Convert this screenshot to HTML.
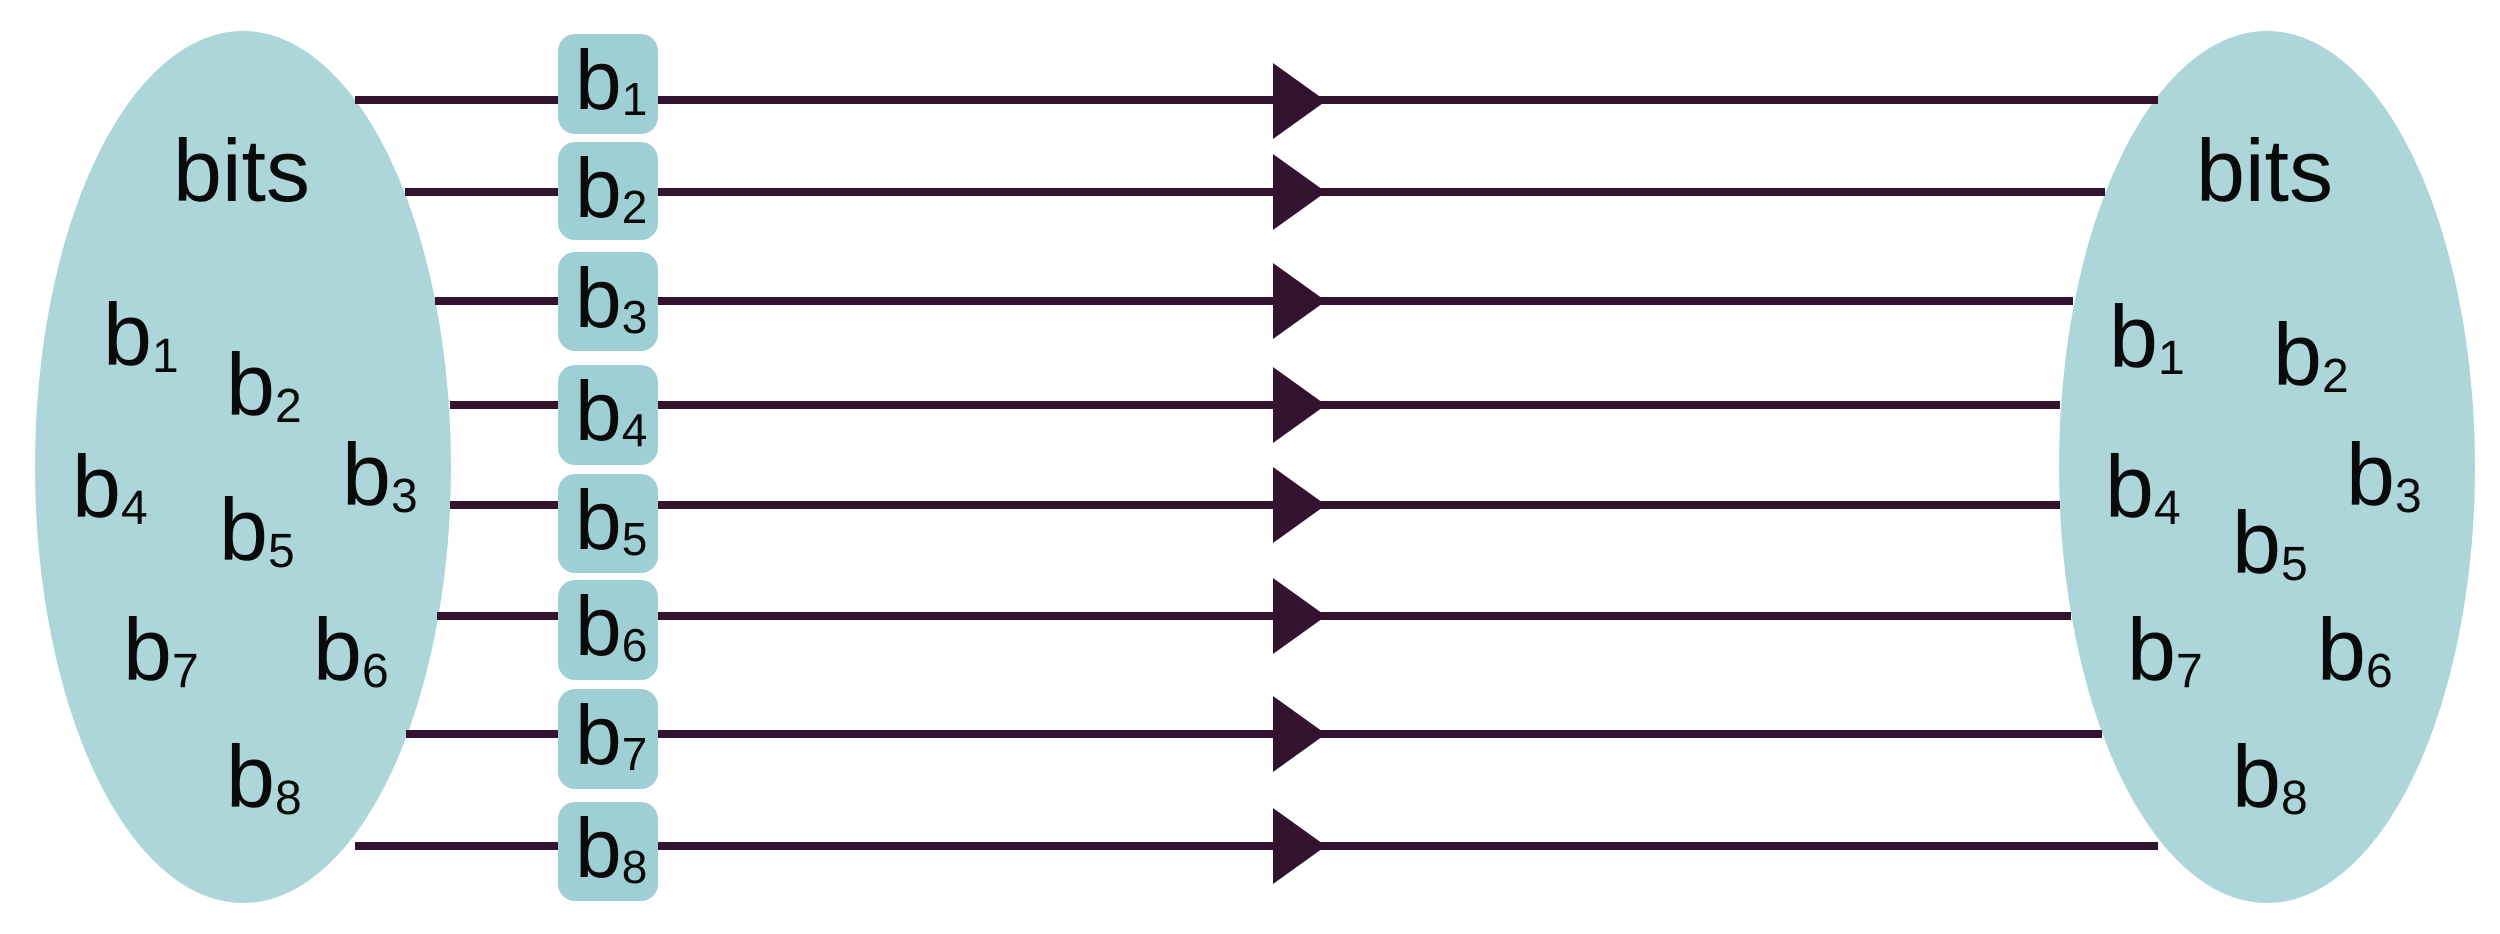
<!DOCTYPE html>
<html><head><meta charset="utf-8"><style>
html,body{margin:0;padding:0;background:#fff;width:2500px;height:934px;overflow:hidden}
svg{display:block}
text{font-family:"Liberation Sans",sans-serif;fill:#0a0a0a}
</style></head><body>
<svg width="2500" height="934" viewBox="0 0 2500 934" xmlns="http://www.w3.org/2000/svg">
<ellipse cx="243" cy="467" rx="208" ry="436" fill="#acd6da"/>
<ellipse cx="2267" cy="467" rx="208" ry="436" fill="#acd6da"/>
<g stroke="#33132f" stroke-width="8">
<line x1="355" y1="100" x2="2158" y2="100"/>
<line x1="405" y1="192" x2="2105" y2="192"/>
<line x1="435" y1="301" x2="2073" y2="301"/>
<line x1="450" y1="405" x2="2060" y2="405"/>
<line x1="450" y1="505" x2="2060" y2="505"/>
<line x1="437" y1="616" x2="2071" y2="616"/>
<line x1="406" y1="734" x2="2102" y2="734"/>
<line x1="355" y1="846" x2="2158" y2="846"/>
</g>
<g fill="#33132f">
<polygon points="1273,63 1273,139 1326,101"/>
<polygon points="1273,154 1273,230 1326,192"/>
<polygon points="1273,263 1273,339 1326,301"/>
<polygon points="1273,367 1273,443 1326,405"/>
<polygon points="1273,467 1273,543 1326,505"/>
<polygon points="1273,578 1273,654 1326,616"/>
<polygon points="1273,696 1273,772 1326,734"/>
<polygon points="1273,808 1273,884 1326,846"/>
</g>
<g fill="#9dcfd4">
<rect x="558" y="34" width="100" height="100" rx="17"/>
<rect x="558" y="142" width="100" height="98" rx="17"/>
<rect x="558" y="252" width="100" height="99" rx="17"/>
<rect x="558" y="365" width="100" height="100" rx="17"/>
<rect x="558" y="474" width="100" height="99" rx="17"/>
<rect x="558" y="580" width="100" height="100" rx="17"/>
<rect x="558" y="689" width="100" height="100" rx="17"/>
<rect x="558" y="802" width="100" height="99" rx="17"/>
</g>
<g font-size="84">
<text x="575" y="109">b<tspan font-size="46" dy="6">1</tspan></text>
<text x="575" y="217">b<tspan font-size="46" dy="6">2</tspan></text>
<text x="575" y="327">b<tspan font-size="46" dy="6">3</tspan></text>
<text x="575" y="440">b<tspan font-size="46" dy="6">4</tspan></text>
<text x="575" y="549">b<tspan font-size="46" dy="6">5</tspan></text>
<text x="575" y="655">b<tspan font-size="46" dy="6">6</tspan></text>
<text x="575" y="764">b<tspan font-size="46" dy="6">7</tspan></text>
<text x="575" y="877">b<tspan font-size="46" dy="6">8</tspan></text>
</g>
<g font-size="88">
<text x="173" y="201">bits</text>
<text x="103" y="365">b<tspan font-size="48" dy="7">1</tspan></text>
<text x="226" y="415">b<tspan font-size="48" dy="7">2</tspan></text>
<text x="342" y="505">b<tspan font-size="48" dy="7">3</tspan></text>
<text x="72" y="517">b<tspan font-size="48" dy="7">4</tspan></text>
<text x="219" y="560">b<tspan font-size="48" dy="7">5</tspan></text>
<text x="313" y="680">b<tspan font-size="48" dy="7">6</tspan></text>
<text x="123" y="680">b<tspan font-size="48" dy="7">7</tspan></text>
<text x="226" y="807">b<tspan font-size="48" dy="7">8</tspan></text>

<text x="2196" y="201">bits</text>
<text x="2109" y="367">b<tspan font-size="48" dy="7">1</tspan></text>
<text x="2273" y="385">b<tspan font-size="48" dy="7">2</tspan></text>
<text x="2346" y="505">b<tspan font-size="48" dy="7">3</tspan></text>
<text x="2105" y="517">b<tspan font-size="48" dy="7">4</tspan></text>
<text x="2232" y="573">b<tspan font-size="48" dy="7">5</tspan></text>
<text x="2317" y="680">b<tspan font-size="48" dy="7">6</tspan></text>
<text x="2127" y="680">b<tspan font-size="48" dy="7">7</tspan></text>
<text x="2232" y="807">b<tspan font-size="48" dy="7">8</tspan></text>
</g>
</svg>
</body></html>
